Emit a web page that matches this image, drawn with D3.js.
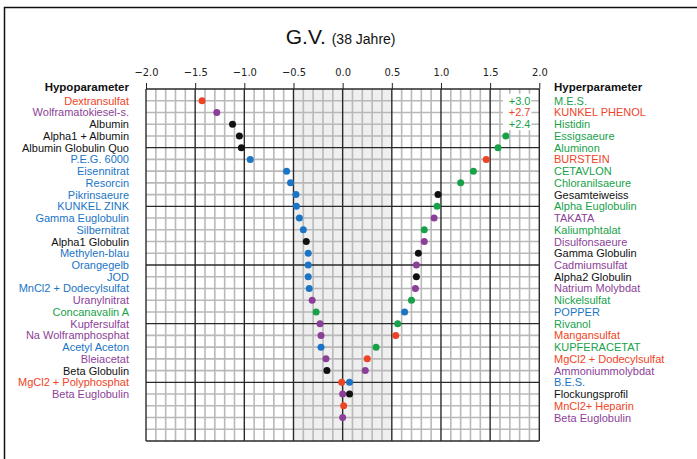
<!DOCTYPE html>
<html>
<head>
<meta charset="utf-8">
<script src="https://cdn.jsdelivr.net/npm/d3@7"></script>
<style>
  body { margin: 0; background: #fff; }
  text { font-family: "Liberation Sans", Arial, sans-serif; }
</style>
</head>
<body>
<div id="chart"></div>
<script>
// left side (hypo) and right side (hyper) parameters
const hypoLabels = ["Dextransulfat", "Wolframatokiesel-s.", "Albumin", "Alpha1 + Albumin", "Albumin Globulin Quo",
  "P.E.G. 6000", "Eisennitrat", "Resorcin", "Pikrinsaeure", "KUNKEL ZINK", "Gamma Euglobulin", "Silbernitrat",
  "Alpha1 Globulin", "Methylen-blau", "Orangegelb", "JOD", "MnCl2 + Dodecylsulfat", "Uranylnitrat",
  "Concanavalin A", "Kupfersulfat", "Na Wolframphosphat", "Acetyl Aceton", "Bleiacetat", "Beta Globulin",
  "MgCl2 + Polyphosphat", "Beta Euglobulin"];
const hypoValues = [-1.43, -1.28, -1.12, -1.05, -1.03, -0.94, -0.57, -0.53, -0.475, -0.47, -0.44, -0.40,
  -0.37, -0.35, -0.35, -0.35, -0.34, -0.31, -0.27, -0.23, -0.22, -0.22, -0.17, -0.16, -0.01, 0.0];
const hypoGroups = ["r", "p", "k", "k", "k", "b", "b", "b", "b", "b", "b", "b", "k", "b", "b", "b", "b", "p",
  "g", "p", "p", "b", "p", "k", "r", "p"];

const hyperLabels = ["M.E.S.", "KUNKEL PHENOL", "Histidin", "Essigsaeure", "Aluminon", "BURSTEIN", "CETAVLON",
  "Chloranilsaeure", "Gesamteiweiss", "Alpha Euglobulin", "TAKATA", "Kaliumphtalat", "Disulfonsaeure",
  "Gamma Globulin", "Cadmiumsulfat", "Alpha2 Globulin", "Natrium Molybdat", "Nickelsulfat", "POPPER",
  "Rivanol", "Mangansulfat", "KUPFERACETAT", "MgCl2 + Dodecylsulfat", "Ammoniummolybdat", "B.E.S.",
  "Flockungsprofil", "MnCl2+ Heparin", "Beta Euglobulin"];
const hyperValues = [3.0, 2.7, 2.4, 1.66, 1.58, 1.46, 1.33, 1.20, 0.97, 0.96, 0.93, 0.83, 0.83,
  0.77, 0.75, 0.75, 0.74, 0.70, 0.63, 0.56, 0.54, 0.34, 0.25, 0.23, 0.07, 0.07, 0.01, 0.0];
const hyperGroups = ["g", "r", "g", "g", "g", "r", "g", "g", "k", "g", "p", "g", "p", "k", "p", "k", "p", "g",
  "b", "g", "r", "g", "r", "p", "b", "k", "r", "p"];

const xTicks = [-2.0, -1.5, -1.0, -0.5, 0.0, 0.5, 1.0, 1.5, 2.0];

const colors = { r: "#ee4426", p: "#8c3f98", k: "#111111", b: "#1b75c4", g: "#17a24a" };

const width = 697, height = 459;
const nRows = 30;

const svg = d3.select("#chart").append("svg")
  .attr("width", width)
  .attr("height", height);

// outer frame
svg.append("path")
  .attr("d", `M4.5,${height} L4.5,7.5 L${width},7.5`)
  .attr("fill", "none")
  .attr("stroke", "#111")
  .attr("stroke-width", 1.5);

const x = d3.scaleLinear().domain([-2, 2]).range([146, 539.3]);
const y = d3.scaleLinear().domain([0, nRows]).range([89, 441]);

// normal range band
svg.append("rect")
  .attr("x", x(-0.5)).attr("y", y(0))
  .attr("width", x(0.5) - x(-0.5)).attr("height", y(nRows) - y(0))
  .attr("fill", "#efefef");

// grid: minor first, major on top
const vLines = d3.range(-20, 21).map(d => d / 10);
const hLines = d3.range(0, nRows + 1);
const grid = svg.append("g");
grid.selectAll("line.vmin")
  .data(vLines.filter(d => Math.round(d * 10) % 5 !== 0))
  .join("line")
  .attr("x1", d => x(d)).attr("x2", d => x(d))
  .attr("y1", y(0)).attr("y2", y(nRows))
  .attr("stroke", "#b9b9b9").attr("stroke-width", 1.6);
grid.selectAll("line.hmin")
  .data(hLines.filter(d => d % 5 !== 0))
  .join("line")
  .attr("x1", x(-2)).attr("x2", x(2))
  .attr("y1", d => y(d)).attr("y2", d => y(d))
  .attr("stroke", "#b9b9b9").attr("stroke-width", 1.6);
grid.selectAll("line.vmaj")
  .data(vLines.filter(d => Math.round(d * 10) % 5 === 0))
  .join("line")
  .attr("x1", d => x(d)).attr("x2", d => x(d))
  .attr("y1", y(0)).attr("y2", y(nRows))
  .attr("stroke", "#2a2a2a").attr("stroke-width", 1.4);
grid.selectAll("line.hmaj")
  .data(hLines.filter(d => d % 5 === 0))
  .join("line")
  .attr("x1", x(-2)).attr("x2", x(2))
  .attr("y1", d => y(d)).attr("y2", d => y(d))
  .attr("stroke", "#2a2a2a").attr("stroke-width", 1.4);

// top axis
const axis = svg.append("g")
  .attr("transform", `translate(0,${y(0)})`)
  .call(d3.axisTop(x).tickValues(xTicks).tickFormat(d3.format(".1f")).tickSize(6).tickPadding(7));
axis.select(".domain").remove();
axis.selectAll("line").attr("stroke", "#222");
axis.selectAll("text")
  .attr("font-size", 11)
  .attr("fill", "#222")
  .style("font-family", "'Liberation Sans Narrow', 'DejaVu Sans Condensed', sans-serif");

// title
const title = svg.append("text")
  .attr("x", x(0) - 2).attr("y", 44)
  .attr("text-anchor", "middle")
  .attr("fill", "#111");
title.append("tspan").attr("font-size", 21).text("G.V. ");
title.append("tspan").attr("font-size", 14).text("(38 Jahre)");

// headers
svg.append("text")
  .attr("x", 129).attr("y", y(0) + 2)
  .attr("text-anchor", "end")
  .attr("font-size", 11.5).attr("font-weight", "bold").attr("fill", "#111")
  .text("Hypoparameter");
svg.append("text")
  .attr("x", 554).attr("y", y(0) + 2)
  .attr("text-anchor", "start")
  .attr("font-size", 11.5).attr("font-weight", "bold").attr("fill", "#111")
  .text("Hyperparameter");

// labels
svg.selectAll("text.hypo")
  .data(hypoLabels)
  .join("text")
  .attr("x", 129).attr("y", (d, i) => y(i + 1) + 4)
  .attr("text-anchor", "end")
  .attr("font-size", 11)
  .attr("fill", (d, i) => colors[hypoGroups[i]])
  .text(d => d);
svg.selectAll("text.hyper")
  .data(hyperLabels)
  .join("text")
  .attr("x", 554).attr("y", (d, i) => y(i + 1) + 4)
  .attr("text-anchor", "start")
  .attr("font-size", 11)
  .attr("fill", (d, i) => colors[hyperGroups[i]])
  .text(d => d);

// points
const hypoData = hypoValues.map((v, i) => ({ v, row: i + 1, c: hypoGroups[i] }));
const hyperData = hyperValues.map((v, i) => ({ v, row: i + 1, c: hyperGroups[i] }));
const allData = hypoData.concat(hyperData);

svg.selectAll("circle.pt")
  .data(allData.filter(d => d.v <= 2))
  .join("circle")
  .attr("cx", d => x(d.v)).attr("cy", d => y(d.row))
  .attr("r", 3.5)
  .attr("fill", d => colors[d.c]);

// off-scale values written as text in a white box
const over = allData.filter(d => d.v > 2);
const rowsOver = over.map(d => d.row);
svg.append("rect")
  .attr("x", x(1.63)).attr("y", y(d3.min(rowsOver)) - 7)
  .attr("width", x(1.92) - x(1.63))
  .attr("height", y(d3.max(rowsOver)) - y(d3.min(rowsOver)) + 13)
  .attr("fill", "#fff");
svg.selectAll("text.over")
  .data(over)
  .join("text")
  .attr("x", x(1.91)).attr("y", d => y(d.row) + 4)
  .attr("text-anchor", "end")
  .attr("font-size", 11)
  .attr("fill", d => colors[d.c])
  .text(d => "+" + d.v.toFixed(1));
</script>
</body>
</html>
